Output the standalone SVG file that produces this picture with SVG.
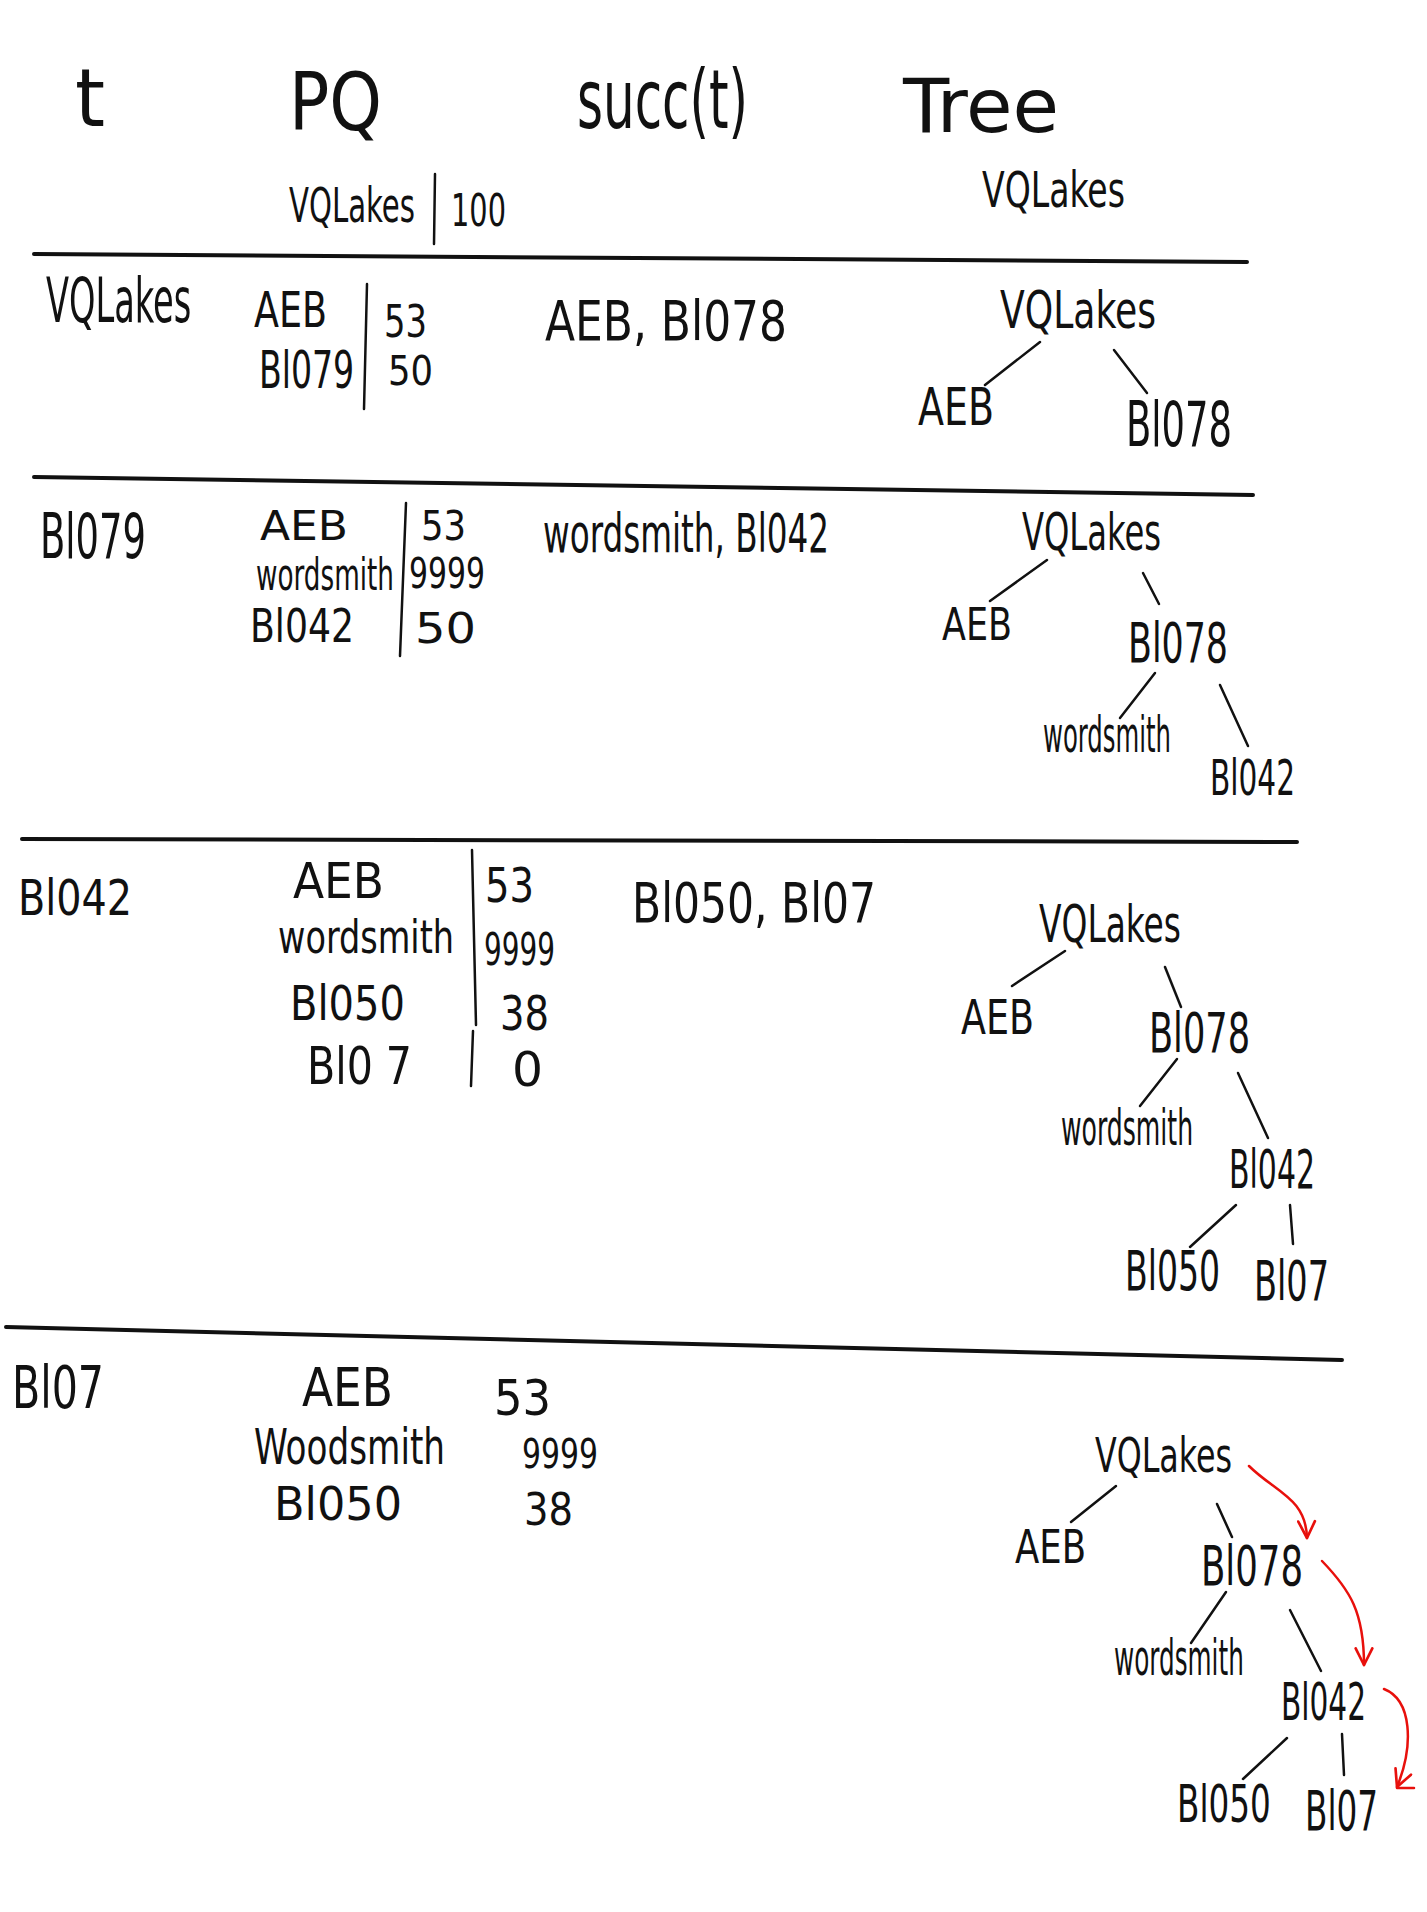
<svg xmlns="http://www.w3.org/2000/svg" width="1427" height="1912" viewBox="0 0 1427 1912">
<style>
text{font-family:"Liberation Sans Narrow","DejaVu Sans Condensed","Liberation Sans",sans-serif;fill:#111;}
.rule{stroke:#111;stroke-width:4;stroke-linecap:round;fill:none;}
.bar{stroke:#111;stroke-width:2.5;stroke-linecap:round;fill:none;}
.edge{stroke:#111;stroke-width:2.5;stroke-linecap:round;fill:none;}
.red{stroke:#e8100c;stroke-width:2.5;stroke-linecap:round;fill:none;}
</style>
<defs>
<marker id="ah" viewBox="0 0 12 12" refX="11" refY="6" markerWidth="20" markerHeight="20" markerUnits="userSpaceOnUse" orient="auto">
<path d="M1,1 L11,6 L1,11" stroke="#e8100c" stroke-width="1.6" fill="none" stroke-linecap="round" stroke-linejoin="round"/>
</marker>
</defs>
<rect width="1427" height="1912" fill="#fff"/>

<g id="header">
<text x="75" y="126" font-size="80" textLength="30" lengthAdjust="spacingAndGlyphs">t</text>
<text x="289" y="130" font-size="80" textLength="93" lengthAdjust="spacingAndGlyphs">PQ</text>
<text x="577" y="128" font-size="82" textLength="171" lengthAdjust="spacingAndGlyphs">succ(t)</text>
<text x="903" y="132" font-size="74" textLength="156" lengthAdjust="spacingAndGlyphs">Tree</text>
<text transform="translate(289,222) scale(0.67,1)" font-size="48" textLength="188" lengthAdjust="spacingAndGlyphs">VQLakes</text>
<line class="bar" x1="435" y1="174" x2="434" y2="244"/>
<text x="451" y="226" font-size="44" textLength="55" lengthAdjust="spacingAndGlyphs">100</text>
<text x="982" y="207" font-size="50" textLength="143" lengthAdjust="spacingAndGlyphs">VQLakes</text>
</g>

<g id="rules">
<line class="rule" x1="34" y1="254" x2="1247" y2="262"/>
<line class="rule" x1="34" y1="477" x2="1253" y2="495"/>
<line class="rule" x1="22" y1="839" x2="1297" y2="842"/>
<line class="rule" x1="6" y1="1327" x2="1342" y2="1360" stroke-width="3"/>
</g>

<g id="row1">
<text transform="translate(46,322) scale(0.6,1)" font-size="62" textLength="242" lengthAdjust="spacingAndGlyphs">VQLakes</text>
<g id="row1-pq">
<text x="254" y="327" font-size="50" textLength="73" lengthAdjust="spacingAndGlyphs">AEB</text>
<text transform="translate(259,388) scale(0.68,1)" font-size="52" textLength="140" lengthAdjust="spacingAndGlyphs">Bl079</text>
<line class="bar" x1="367" y1="284" x2="364" y2="409"/>
<text x="384" y="337" font-size="44" textLength="43" lengthAdjust="spacingAndGlyphs">53</text>
<text x="388" y="385" font-size="40" textLength="45" lengthAdjust="spacingAndGlyphs">50</text>
</g>
<text x="545" y="340" font-size="56" textLength="242" lengthAdjust="spacingAndGlyphs">AEB, Bl078</text>
</g>

<g id="row2">
<text x="40" y="558" font-size="62" textLength="106" lengthAdjust="spacingAndGlyphs">Bl079</text>
<g id="row2-pq">
<text x="260" y="540" font-size="40" textLength="88" lengthAdjust="spacingAndGlyphs">AEB</text>
<text transform="translate(256,590) scale(0.66,1)" font-size="44" textLength="209" lengthAdjust="spacingAndGlyphs">wordsmith</text>
<text x="250" y="642" font-size="46" textLength="104" lengthAdjust="spacingAndGlyphs">Bl042</text>
<line class="bar" x1="406" y1="503" x2="400" y2="656"/>
<text x="421" y="540" font-size="40" textLength="45" lengthAdjust="spacingAndGlyphs">53</text>
<text x="409" y="588" font-size="42" textLength="76" lengthAdjust="spacingAndGlyphs">9999</text>
<text x="415" y="643" font-size="42" textLength="61" lengthAdjust="spacingAndGlyphs">50</text>
</g>
<text x="543" y="552" font-size="54" textLength="286" lengthAdjust="spacingAndGlyphs">wordsmith, Bl042</text>
</g>

<g id="row3">
<text x="18" y="915" font-size="50" textLength="114" lengthAdjust="spacingAndGlyphs">Bl042</text>
<g id="row3-pq">
<text x="293" y="898" font-size="50" textLength="91" lengthAdjust="spacingAndGlyphs">AEB</text>
<text transform="translate(278,953) scale(0.8,1)" font-size="46" textLength="220" lengthAdjust="spacingAndGlyphs">wordsmith</text>
<text x="290" y="1020" font-size="48" textLength="115" lengthAdjust="spacingAndGlyphs">Bl050</text>
<text x="307" y="1084" font-size="52" textLength="105" lengthAdjust="spacingAndGlyphs">Bl0 7</text>
<line class="bar" x1="472" y1="850" x2="476" y2="1025"/>
<line class="bar" x1="473" y1="1031" x2="471" y2="1086"/>
<text x="485" y="902" font-size="48" textLength="49" lengthAdjust="spacingAndGlyphs">53</text>
<text x="484" y="965" font-size="44" textLength="71" lengthAdjust="spacingAndGlyphs">9999</text>
<text x="500" y="1030" font-size="48" textLength="49" lengthAdjust="spacingAndGlyphs">38</text>
<text x="512" y="1086" font-size="48" textLength="31" lengthAdjust="spacingAndGlyphs">0</text>
</g>
<text x="632" y="922" font-size="56" textLength="244" lengthAdjust="spacingAndGlyphs">Bl050, Bl07</text>
</g>

<g id="row4">
<text x="12" y="1408" font-size="58" textLength="92" lengthAdjust="spacingAndGlyphs">Bl07</text>
<g id="row4-pq">
<text x="302" y="1406" font-size="54" textLength="91" lengthAdjust="spacingAndGlyphs">AEB</text>
<text x="254" y="1464" font-size="50" textLength="191" lengthAdjust="spacingAndGlyphs">Woodsmith</text>
<text x="274" y="1520" font-size="46" textLength="128" lengthAdjust="spacingAndGlyphs">Bl050</text>
<text x="494" y="1415" font-size="50" textLength="57" lengthAdjust="spacingAndGlyphs">53</text>
<text x="522" y="1468" font-size="40" textLength="76" lengthAdjust="spacingAndGlyphs">9999</text>
<text x="524" y="1525" font-size="44" textLength="49" lengthAdjust="spacingAndGlyphs">38</text>
</g>
</g>

<g id="tree1">
<g id="t1-vqlakes"><text x="1000" y="328" font-size="52" textLength="156" lengthAdjust="spacingAndGlyphs">VQLakes</text></g>
<g id="t1-aeb"><text x="918" y="425" font-size="52" textLength="76" lengthAdjust="spacingAndGlyphs">AEB</text></g>
<g id="t1-bl078"><text x="1126" y="446" font-size="62" textLength="106" lengthAdjust="spacingAndGlyphs">Bl078</text></g>
</g>

<g id="tree2">
<g id="t2-vqlakes"><text x="1022" y="550" font-size="52" textLength="139" lengthAdjust="spacingAndGlyphs">VQLakes</text></g>
<g id="t2-aeb"><text x="942" y="640" font-size="44" textLength="70" lengthAdjust="spacingAndGlyphs">AEB</text></g>
<g id="t2-bl078"><text x="1128" y="662" font-size="56" textLength="100" lengthAdjust="spacingAndGlyphs">Bl078</text></g>
<g id="t2-wordsmith"><text transform="translate(1043,752) scale(0.54,1)" font-size="50" textLength="237" lengthAdjust="spacingAndGlyphs">wordsmith</text></g>
<g id="t2-bl042"><text x="1210" y="795" font-size="50" textLength="85" lengthAdjust="spacingAndGlyphs">Bl042</text></g>
</g>

<g id="tree3">
<g id="t3-vqlakes"><text x="1039" y="942" font-size="52" textLength="142" lengthAdjust="spacingAndGlyphs">VQLakes</text></g>
<g id="t3-aeb"><text x="961" y="1034" font-size="48" textLength="73" lengthAdjust="spacingAndGlyphs">AEB</text></g>
<g id="t3-bl078"><text x="1149" y="1052" font-size="56" textLength="101" lengthAdjust="spacingAndGlyphs">Bl078</text></g>
<g id="t3-wordsmith"><text transform="translate(1061,1145) scale(0.56,1)" font-size="50" textLength="236" lengthAdjust="spacingAndGlyphs">wordsmith</text></g>
<g id="t3-bl042"><text x="1229" y="1188" font-size="54" textLength="86" lengthAdjust="spacingAndGlyphs">Bl042</text></g>
<g id="t3-bl050"><text transform="translate(1125,1290) scale(0.66,1)" font-size="56" textLength="144" lengthAdjust="spacingAndGlyphs">Bl050</text></g>
<g id="t3-bl07"><text x="1254" y="1300" font-size="56" textLength="75" lengthAdjust="spacingAndGlyphs">Bl07</text></g>
</g>

<g id="tree4">
<g id="t4-vqlakes"><text x="1095" y="1472" font-size="48" textLength="137" lengthAdjust="spacingAndGlyphs">VQLakes</text></g>
<g id="t4-aeb"><text x="1015" y="1563" font-size="46" textLength="71" lengthAdjust="spacingAndGlyphs">AEB</text></g>
<g id="t4-bl078"><text x="1201" y="1585" font-size="56" textLength="102" lengthAdjust="spacingAndGlyphs">Bl078</text></g>
<g id="t4-wordsmith"><text transform="translate(1114,1675) scale(0.55,1)" font-size="50" textLength="236" lengthAdjust="spacingAndGlyphs">wordsmith</text></g>
<g id="t4-bl042"><text x="1281" y="1720" font-size="52" textLength="85" lengthAdjust="spacingAndGlyphs">Bl042</text></g>
<g id="t4-bl050"><text transform="translate(1177,1822) scale(0.7,1)" font-size="52" textLength="134" lengthAdjust="spacingAndGlyphs">Bl050</text></g>
<g id="t4-bl07"><text x="1305" y="1830" font-size="56" textLength="73" lengthAdjust="spacingAndGlyphs">Bl07</text></g>
</g>

<g id="connectors">
<line class="edge" x1="1040" y1="342" x2="985" y2="385"/>
<line class="edge" x1="1114" y1="350" x2="1147" y2="393"/>

<line class="edge" x1="1047" y1="560" x2="990" y2="601"/>
<line class="edge" x1="1143" y1="573" x2="1159" y2="604"/>
<line class="edge" x1="1155" y1="673" x2="1120" y2="718"/>
<line class="edge" x1="1220" y1="685" x2="1248" y2="746"/>

<line class="edge" x1="1065" y1="951" x2="1012" y2="986"/>
<line class="edge" x1="1165" y1="967" x2="1181" y2="1007"/>
<line class="edge" x1="1177" y1="1059" x2="1140" y2="1106"/>
<line class="edge" x1="1238" y1="1073" x2="1268" y2="1138"/>
<line class="edge" x1="1236" y1="1205" x2="1190" y2="1247"/>
<line class="edge" x1="1290" y1="1205" x2="1293" y2="1244"/>

<line class="edge" x1="1116" y1="1486" x2="1071" y2="1522"/>
<line class="edge" x1="1217" y1="1504" x2="1232" y2="1537"/>
<line class="edge" x1="1226" y1="1592" x2="1191" y2="1643"/>
<line class="edge" x1="1290" y1="1610" x2="1321" y2="1671"/>
<line class="edge" x1="1287" y1="1738" x2="1243" y2="1779"/>
<line class="edge" x1="1342" y1="1734" x2="1344" y2="1775"/>

<path class="red" d="M1249,1466 C1275,1492 1306,1498 1307,1538" marker-end="url(#ah)"/>
<path class="red" d="M1322,1561 C1350,1590 1364,1612 1364,1665" marker-end="url(#ah)"/>
<path class="red" d="M1384,1689 C1412,1700 1414,1745 1397,1787" marker-end="url(#ah)"/>
<line class="red" x1="1397" y1="1788" x2="1414" y2="1788"/>
</g>
</svg>
